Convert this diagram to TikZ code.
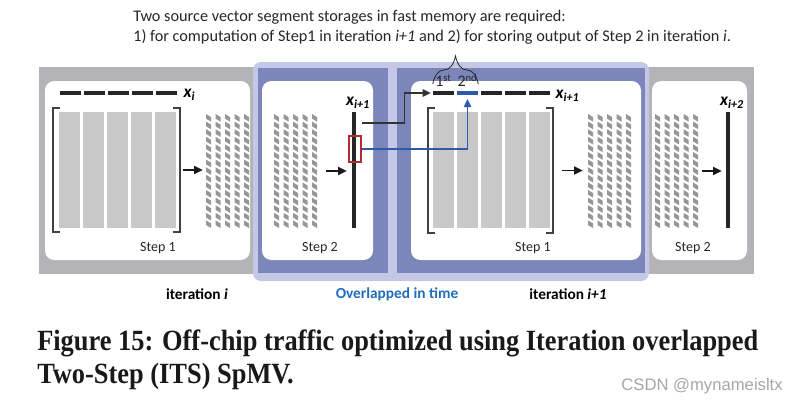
\documentclass[tikz,border=0pt]{standalone}
\usepackage{fontspec}
\setmainfont{Liberation Serif}
\setsansfont{Carlito}
\newfontfamily\wmfont{Liberation Sans}
\usetikzlibrary{arrows.meta, positioning, fit, decorations.pathreplacing}
\definecolor{bandgray}{RGB}{180,180,184}
\definecolor{rimblue}{RGB}{196,200,230}
\definecolor{laneblue}{RGB}{124,134,186}
\definecolor{colgray}{RGB}{200,200,200}
\definecolor{hatchgray}{RGB}{150,150,150}
\definecolor{feedblue}{RGB}{46,90,172}
\definecolor{winred}{RGB}{176,44,48}
\definecolor{overblue}{RGB}{30,110,190}
\newcommand{\pxu}{0.75pt}
\tikzset{
	band/.style={fill=bandgray},
	rim/.style={fill=rimblue, rounded corners=6pt},
	lane/.style={fill=laneblue},
	panel/.style={fill=white, rounded corners=7pt},
	block/.style={rectangle, inner sep=0pt, draw=none},
	bracket/.style={draw=black!75, line width=0.9pt},
	dashseg/.style={rectangle, fill=black!85, inner sep=0pt, minimum width=21*\pxu, minimum height=3.5*\pxu},
	vecbar/.style={rectangle, fill=black!85, inner sep=0pt},
	window/.style={rectangle, draw=winred, line width=0.8pt, inner sep=0pt},
	steplabel/.style={font=\sffamily\fontsize{10.5}{12}\selectfont, text=black!85, inner sep=1pt},
	ordlabel/.style={font=\sffamily\fontsize{12}{13}\selectfont, text=black!85, inner sep=0pt},
	veclabel/.style={font=\sffamily\bfseries\itshape\fontsize{13}{14}\selectfont, inner sep=1pt},
	itlabel/.style={font=\sffamily\bfseries\fontsize{11.5}{13}\selectfont, inner sep=1pt},
	note/.style={font=\sffamily\fontsize{12.2}{14}\selectfont, text=black!85, inner sep=0pt, anchor=base west},
	caption/.style={font=\bfseries\fontsize{22}{24}\selectfont, text=black!90, inner sep=0pt, anchor=base west},
	arrow/.style={-{Triangle[length=6.5pt, width=6pt]}, line width=1.4pt, draw=black!90},
	feed/.style={-{Triangle[length=6pt, width=5.5pt]}, line width=1.1pt, draw=black!80},
	bluefeed/.style={-{Triangle[length=6pt, width=5.5pt]}, line width=1pt, draw=feedblue},
	bracestyle/.style={decorate, decoration={brace, amplitude=21pt, aspect=0.5}, draw=black!85, line width=0.6pt},
}

\begin{document}
\begin{tikzpicture}[x=\pxu, y=-\pxu]
	\useasboundingbox (0,0) rectangle (793,404);
	% background band and overlap region
	\fill[band] (39,67) rectangle (754,274);
	\fill[rim] (253,62) rectangle (649,281);
	\fill[lane] (258,68) rectangle (388,273);
	\fill[lane] (397,68) rectangle (645,273);
	% white step panels
	\fill[panel] (45,81) rectangle (250,260);
	\fill[panel] (262,81) rectangle (373,260);
	\fill[panel] (411,81) rectangle (641,260);
	\fill[panel] (652,81) rectangle (747,260);

	% matrices
	\foreach \mx in {59,433} {
		\foreach \c in {0,...,4}
			\fill[colgray] (\mx+24*\c,112) rectangle ++(21,116);
	}
	\draw[bracket] (60,108) -| (53,232) -- (60,232);
	\draw[bracket] (173,108) -| (180,232) -- (173,232);
	\draw[bracket] (435,108) -| (428,233) -- (435,233);
	\draw[bracket] (546,108) -| (553,233) -- (546,233);
	\node[block, fit={(53,108) (180,232)}] (m1) {};
	\node[block, fit={(428,108) (553,233)}] (m3) {};

	% hatched partial results
	\foreach \hx in {206,274,588,655} {
		\foreach \c in {0,...,4} {
			\foreach \r in {0,...,14} {
				\pgfmathsetmacro\cx{\hx+9.5*\c}
				\pgfmathsetmacro\cy{114+7.6*\r}
				\fill[hatchgray] (\cx,\cy) -- (\cx+5,\cy+3) -- (\cx+5,\cy+7.6) -- (\cx,\cy+4.6) -- cycle;
			}
		}
	}
	\node[block, fit={(206,114) (249,228)}] (h1) {};
	\node[block, fit={(274,114) (317,228)}] (h2) {};
	\node[block, fit={(588,114) (631,228)}] (h3) {};
	\node[block, fit={(655,114) (698,228)}] (h4) {};

	% source vector segments
	\foreach \k in {0,...,4}
		\node[dashseg] (a\k) at (70.5+24*\k,93) {};
	\foreach \k in {0,...,4} {
		\ifnum\k=1 \def\dc{feedblue}\else\def\dc{black!85}\fi
		\node[dashseg, fill=\dc] (d\k) at (443.5+24*\k,93) {};
	}
	\node[veclabel, anchor=west] (l1) at (182,95) {x\textsubscript{i}};
	\node[veclabel, anchor=west] (l3) at (554,96) {x\textsubscript{i+1}};

	% output vectors
	\node[vecbar, fit={(352,112) (356,228)}] (b2) {};
	\node[vecbar, fit={(726,112) (730,228)}] (b4) {};
	\node[veclabel, above=1pt of b2, xshift=4*\pxu] (l2) {x\textsubscript{i+1}};
	\node[veclabel, above=1pt of b4, xshift=4*\pxu] (l4) {x\textsubscript{i+2}};
	\node[window, fit={(349,136) (361,162)}] (win) {};

	% step arrows
	\draw[arrow, shorten <=3*\pxu, shorten >=3*\pxu] (m1.east) -- (m1.east -| h1.west);
	\draw[arrow, shorten <=9*\pxu, shorten >=5*\pxu] (h2.east) -- (h2.east -| b2.west);
	\draw[arrow, shorten <=9*\pxu, shorten >=5*\pxu] (m3.east) -- (m3.east -| h3.west);
	\draw[arrow, shorten <=4*\pxu, shorten >=4*\pxu] (h4.east) -- (h4.east -| b4.west);

	% overlap feeds
	\coordinate (tap) at (362,123);
	\draw[feed, shorten >=2*\pxu] (tap) -| ([xshift=-28*\pxu]d0.west) -- (d0.west);
	\draw[bluefeed, shorten >=4*\pxu] (win.east) -| (d1.south);

	% two storages brace
	\draw[bracestyle] ([yshift=7*\pxu]d0.north west) -- ([yshift=7*\pxu]d1.north east);
	\node[ordlabel, anchor=base] (o1) at ([yshift=4*\pxu]d0.north) {1\textsuperscript{st}};
	\node[ordlabel, anchor=base] (o2) at ([yshift=4*\pxu]d1.north) {2\textsuperscript{nd}};

	% step labels
	\node[steplabel] (s1) at (158,248) {Step 1};
	\node[steplabel] (s2) at (320,248) {Step 2};
	\node[steplabel] (s3) at (533,248) {Step 1};
	\node[steplabel] (s4) at (693,248) {Step 2};

	% iteration labels
	\node[itlabel] (it1) at (197,294) {iteration \textit{i}};
	\node[itlabel, text=overblue] (ov) at (397,294) {Overlapped in time};
	\node[itlabel] (it2) at (568,294) {iteration \textit{i+1}};

	% notes and caption
	\node[note] (n1) at (133,21) {Two source vector segment storages in fast memory are required:};
	\node[note] (n2) at (133,41) {1) for computation of Step1 in iteration \textit{i+1} and 2) for storing output of Step 2 in iteration \textit{i}.};
	\node[caption] (c1) at (37,350) {\scalebox{0.9}[1]{Figure 15: Off-chip traffic optimized using Iteration overlapped}};
	\node[caption] (c2) at (37,383) {\scalebox{0.9}[1]{Two-Step (ITS) SpMV.}};
	\node[font=\wmfont\fontsize{12.5}{14}\selectfont, text=black!35, anchor=base east, inner sep=0pt] (wm) at (783,390) {CSDN @mynameisltx};
\end{tikzpicture}
\end{document}
